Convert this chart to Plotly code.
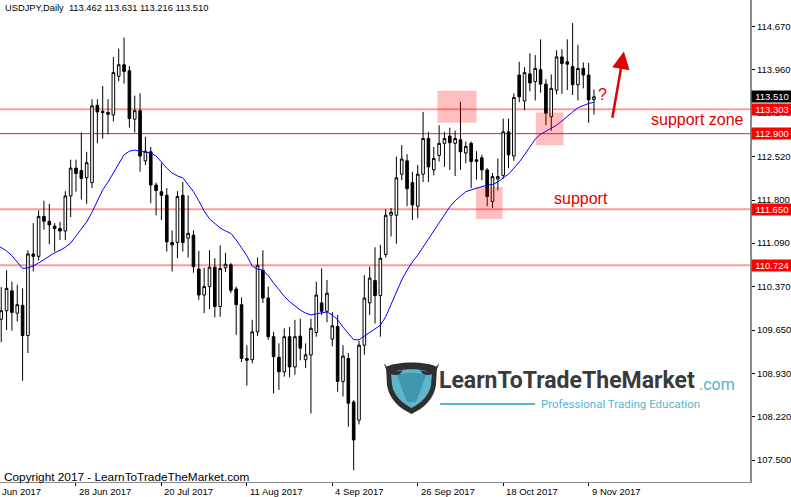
import numpy as np
import pandas as pd
import plotly.graph_objects as go

# ---------------- data ----------------
dates = [d.strftime("%Y-%m-%d") for d in pd.bdate_range("2017-06-07", "2017-11-10")]
base_date = "2017-06-05"

opens = [109.78, 109.83, 109.97, 110.30, 109.93, 110.06, 109.56, 110.91, 110.87, 111.53,
         111.45, 111.37, 111.33, 111.29, 111.87, 112.33, 112.29, 112.17, 112.09, 113.37,
         113.27, 113.25, 113.21, 113.85, 114.04, 113.94, 113.14, 113.28, 112.45, 112.60,
         112.05, 111.94, 111.88, 111.10, 111.10, 111.88, 111.17, 111.22, 110.66, 110.23,
         110.37, 110.69, 110.04, 110.68, 110.73, 110.33, 110.07, 109.18, 109.16, 109.62,
         110.64, 110.18, 109.54, 109.20, 108.96, 109.54, 109.04, 109.55, 109.16, 109.24,
         109.61, 110.10, 109.96, 109.50, 109.71, 108.80, 109.18, 108.46, 108.16, 109.40,
         110.10, 110.47, 110.22, 110.90, 111.55, 111.55, 112.23, 112.45, 112.09, 111.70,
         112.23, 112.82, 112.30, 112.54, 112.74, 112.86, 112.74, 112.80, 112.58, 112.74,
         112.44, 112.50, 112.30, 111.78, 112.15, 112.21, 112.93, 112.53, 113.87, 113.44,
         113.89, 113.76, 113.96, 113.72, 113.18, 113.62, 114.17, 114.09, 114.01, 113.71,
         113.98, 113.87, 113.462]
highs = [110.25, 110.36, 110.64, 110.45, 110.40, 110.34, 110.97, 111.42, 111.63, 111.79,
         111.74, 111.42, 111.44, 111.95, 112.47, 112.47, 112.92, 112.60, 113.47, 113.47,
         113.69, 113.47, 114.17, 114.31, 114.49, 114.02, 113.53, 113.57, 112.85, 112.68,
         112.09, 112.41, 112.00, 111.30, 111.95, 112.10, 111.88, 111.30, 110.96, 110.68,
         110.97, 110.84, 111.05, 110.93, 110.76, 110.37, 110.19, 109.40, 109.82, 110.85,
         110.97, 110.37, 109.62, 109.43, 109.68, 109.70, 109.82, 109.84, 109.43, 109.84,
         110.45, 110.67, 110.48, 109.95, 109.90, 109.40, 109.27, 108.49, 109.47, 110.56,
         110.70, 111.02, 111.06, 111.65, 111.67, 112.52, 112.71, 112.56, 112.27, 112.38,
         113.26, 112.93, 112.68, 113.04, 112.93, 113.00, 112.95, 113.43, 112.77, 112.77,
         112.61, 112.55, 112.33, 112.25, 112.49, 113.15, 113.15, 113.57, 114.09, 114.00,
         114.23, 114.20, 114.46, 113.80, 113.88, 114.28, 114.30, 114.46, 114.73, 114.37,
         114.08, 114.07, 113.631]
lows = [109.62, 109.45, 109.65, 109.64, 109.79, 108.81, 109.27, 110.62, 110.80, 111.31,
        111.07, 110.95, 111.14, 111.14, 111.52, 111.94, 111.81, 111.74, 112.00, 112.74,
        112.82, 112.89, 113.10, 113.77, 113.73, 113.00, 112.92, 112.27, 112.38, 111.75,
        111.55, 111.47, 110.95, 110.62, 110.84, 110.95, 110.85, 110.60, 110.15, 109.93,
        110.00, 109.86, 109.87, 110.61, 110.26, 109.57, 109.12, 108.73, 109.10, 109.55,
        110.10, 109.49, 108.60, 108.66, 108.88, 108.87, 108.91, 109.15, 109.02, 108.27,
        109.54, 109.90, 109.78, 109.38, 108.63, 108.55, 108.05, 107.33, 108.09, 109.24,
        109.90, 109.76, 109.54, 110.85, 111.20, 111.08, 112.13, 111.70, 111.47, 111.50,
        112.10, 112.10, 112.21, 112.44, 112.35, 112.30, 112.20, 112.30, 112.41, 112.00,
        112.14, 112.13, 111.70, 111.67, 111.96, 112.15, 112.33, 112.45, 113.42, 113.29,
        113.60, 113.45, 113.58, 113.04, 112.95, 113.55, 113.56, 113.62, 113.54, 113.45,
        113.65, 113.08, 113.216]
closes = [109.83, 109.97, 110.34, 109.94, 110.07, 109.56, 110.91, 110.87, 111.53, 111.45,
          111.39, 111.33, 111.29, 111.87, 112.33, 112.24, 112.16, 112.42, 113.36, 113.26,
          113.25, 113.22, 113.91, 114.04, 113.93, 113.15, 113.28, 112.53, 112.61, 112.05,
          111.96, 111.88, 111.11, 111.06, 111.86, 111.10, 111.25, 110.70, 110.23, 110.37,
          110.69, 110.04, 110.67, 110.74, 110.31, 110.07, 109.18, 109.15, 109.62, 110.72,
          110.18, 109.54, 109.21, 108.96, 109.54, 109.04, 109.54, 109.35, 109.24, 109.68,
          110.23, 109.96, 110.26, 109.72, 108.80, 109.22, 108.44, 107.83, 109.40, 110.18,
          110.51, 110.22, 110.84, 111.55, 111.60, 112.17, 112.48, 111.99, 111.72, 112.23,
          112.82, 112.35, 112.49, 112.74, 112.82, 112.75, 112.82, 112.60, 112.69, 112.44,
          112.47, 112.30, 111.86, 112.19, 112.19, 112.93, 112.55, 113.50, 113.51, 113.91,
          113.74, 113.98, 113.72, 113.24, 113.65, 114.17, 114.06, 114.05, 113.71, 113.98,
          113.87, 113.46, 113.510]
ma_line = [111.07, 111.02, 110.96, 110.88, 110.78, 110.67, 110.68, 110.71, 110.76, 110.82,
           110.88, 110.93, 110.97, 111.02, 111.09, 111.21, 111.31, 111.44, 111.60, 111.79,
           111.97, 112.10, 112.25, 112.40, 112.55, 112.61, 112.63, 112.61, 112.60, 112.58,
           112.53, 112.43, 112.33, 112.25, 112.20, 112.17, 112.05, 111.94, 111.79, 111.62,
           111.49, 111.41, 111.34, 111.29, 111.25, 111.14, 111.02, 110.88, 110.71, 110.66,
           110.64, 110.55, 110.43, 110.31, 110.21, 110.12, 110.05, 109.98, 109.93, 109.90,
           109.92, 109.94, 109.95, 109.90, 109.82, 109.70, 109.59, 109.49, 109.49, 109.55,
           109.62, 109.67, 109.73, 109.87, 110.08, 110.28, 110.48, 110.64, 110.78, 110.89,
           111.02, 111.16, 111.29, 111.42, 111.55, 111.69, 111.79, 111.87, 111.94, 111.97,
           112.00, 112.03, 112.05, 112.06, 112.10, 112.17, 112.23, 112.33, 112.43, 112.55,
           112.68, 112.81, 112.89, 112.94, 112.98, 113.04, 113.11, 113.19, 113.26, 113.33,
           113.37, 113.40, 113.42]

level_soft = [113.303, 111.650, 110.724]
level_hard = [112.900]
last_price = 113.510

tick_dates = ["2017-06-06", "2017-06-28", "2017-07-20", "2017-08-11", "2017-09-04",
              "2017-09-26", "2017-10-18", "2017-11-09"]
tick_texts = ["6 Jun 2017", "28 Jun 2017", "20 Jul 2017", "11 Aug 2017", "4 Sep 2017",
              "26 Sep 2017", "18 Oct 2017", "9 Nov 2017"]
price_ticks = [114.670, 113.960, 113.240, 112.520, 111.800, 111.090, 110.370,
               109.650, 108.930, 108.220, 107.500]

# zones (index range, price range)
zones = [
    (84.7, 92.0, 113.08, 113.61),
    (103.1, 108.3, 112.71, 113.25),
    (91.9, 96.9, 111.49, 112.02),
]

# ---------------- layout constants ----------------
W, H = 791, 497
ML, MR, MT, MB = 0, 41, 0, 15
PW, PH = W - ML - MR, H - MT - MB
XMIN, XMAX = 2.77, 143.22
YMIN, YMAX = 107.136, 115.112
FONT = "Liberation Sans"

xi = [int(np.busday_count(base_date, d)) for d in dates]
tick_x = [int(np.busday_count(base_date, d)) for d in tick_dates]


def px(x):
    return x / PW


def py(y):
    return 1 - y / PH


def xfrac(i):
    return (i - XMIN) / (XMAX - XMIN)


fig = go.Figure()

fig.add_trace(go.Candlestick(
    x=xi, open=opens, high=highs, low=lows, close=closes,
    increasing=dict(line=dict(color="black", width=1), fillcolor="white"),
    decreasing=dict(line=dict(color="black", width=1), fillcolor="black"),
    whiskerwidth=0, hoverinfo="skip", showlegend=False,
))
fig.add_trace(go.Scatter(
    x=xi, y=ma_line, mode="lines", line=dict(color="#0000FF", width=1),
    hoverinfo="skip", showlegend=False,
))

shapes = []
for lv in level_soft:
    shapes.append(dict(type="line", xref="paper", x0=0, x1=1, yref="y", y0=lv, y1=lv,
                       line=dict(color="#FF9A9A", width=2), layer="below"))
for lv in level_hard:
    shapes.append(dict(type="line", xref="paper", x0=0, x1=1, yref="y", y0=lv, y1=lv,
                       line=dict(color="#E02020", width=1), layer="below"))
for x0, x1, y0, y1 in zones:
    shapes.append(dict(type="rect", xref="x", yref="y", x0=x0, x1=x1, y0=y0, y1=y1,
                       fillcolor="rgba(255,0,0,0.25)", line=dict(width=0), layer="above"))


def ppath(cmds):
    out = []
    for c in cmds:
        op = c[0]
        nums = c[1:]
        parts = []
        for k in range(0, len(nums), 2):
            parts.append(f"{px(nums[k]):.5f},{py(nums[k + 1]):.5f}")
        out.append(op + " ".join(parts))
    return " ".join(out) + " Z"


shield_outer = [("M", 386, 367), ("C", 396, 361, 427, 361, 437, 367), ("L", 436, 385),
                ("C", 434, 399, 424, 408, 411.5, 414), ("C", 399, 408, 389, 399, 387, 385)]
shield_inner = [("M", 391, 373), ("C", 401, 368, 422, 368, 432, 373), ("L", 431, 385),
                ("C", 429, 396, 421, 403, 411.5, 408), ("C", 402, 403, 394, 396, 392, 385)]
head = [("M", 397, 375), ("C", 405, 372, 418, 372, 426, 375), ("L", 421, 389),
        ("L", 416, 402), ("L", 407, 402), ("L", 402, 389)]
horn_l = [("M", 384, 363), ("C", 389, 371, 396, 373, 403, 370), ("L", 400, 374),
          ("C", 392, 377, 386, 373, 384, 363)]
horn_r = [("M", 439, 363), ("C", 434, 371, 427, 373, 420, 370), ("L", 423, 374),
          ("C", 431, 377, 437, 373, 439, 363)]
for pth, col in [(shield_outer, "#2f2f2f"), (shield_inner, "#5fb6cb"), (head, "#3f98b0"),
                 (horn_l, "#2f2f2f"), (horn_r, "#2f2f2f")]:
    shapes.append(dict(type="path", xref="paper", yref="paper", path=ppath(pth),
                       fillcolor=col, line=dict(width=0), layer="above"))
shapes.append(dict(type="line", xref="paper", yref="paper", x0=px(440), x1=px(535),
                   y0=py(404), y1=py(404), line=dict(color="#5ab4d4", width=2)))

ann = []
# title
ann.append(dict(xref="paper", yref="paper", x=px(3), y=py(1), xanchor="left", yanchor="top",
                text="USDJPY,Daily  113.462 113.631 113.216 113.510", showarrow=False,
                font=dict(family=FONT, size=9.3, color="black")))
# copyright
ann.append(dict(xref="paper", yref="paper", x=px(2), y=py(468), xanchor="left", yanchor="top",
                text="Copyright 2017 - LearnToTradeTheMarket.com", showarrow=False,
                font=dict(family=FONT, size=11.8, color="black")))
# x date labels (left aligned at their tick)
for tx, tt in zip(tick_x, tick_texts):
    ann.append(dict(xref="paper", yref="paper", x=xfrac(tx) + 1 / PW, y=py(PH + 2),
                    xanchor="left", yanchor="top", text=tt, showarrow=False,
                    font=dict(family=FONT, size=9.5, color="black")))
# price boxes
for lv in level_soft + level_hard:
    ann.append(dict(xref="paper", yref="y", x=1 + 1 / PW, y=lv, xanchor="left", yanchor="middle",
                    text=f"{lv:.3f}", showarrow=False, bgcolor="#FF0000", width=40, height=11,
                    borderpad=0, align="center", font=dict(family=FONT, size=9.5, color="white")))
ann.append(dict(xref="paper", yref="y", x=1 + 1 / PW, y=last_price, xanchor="left", yanchor="middle",
                text=f"{last_price:.3f}", showarrow=False, bgcolor="#000000", width=40, height=11,
                borderpad=0, align="center", font=dict(family=FONT, size=9.5, color="white")))
# notes
ann.append(dict(xref="x", yref="y", x=133.3, y=113.14, text="support zone", showarrow=False,
                font=dict(family=FONT, size=16, color="#E00000")))
ann.append(dict(xref="x", yref="y", x=111.5, y=111.83, text="support", showarrow=False,
                font=dict(family=FONT, size=16, color="#E00000")))
ann.append(dict(xref="x", yref="y", x=115.6, y=113.55, text="?", showarrow=False,
                font=dict(family=FONT, size=16, color="#E00000")))
ann.append(dict(xref="x", yref="y", x=119.6, y=114.26, ax=117.4, ay=113.14, axref="x", ayref="y",
                text="", showarrow=True, arrowhead=2, arrowsize=1.4, arrowwidth=2.5,
                arrowcolor="#E00000", standoff=0))
# logo text
ann.append(dict(xref="paper", yref="paper", x=px(437), y=py(380), xanchor="left", yanchor="middle",
                text="<b>LearnToTradeTheMarket</b>", showarrow=False,
                font=dict(family="Roboto", size=23, color="#3a3a3a")))
ann.append(dict(xref="paper", yref="paper", x=px(697), y=py(384), xanchor="left", yanchor="middle",
                text=".com", showarrow=False, font=dict(family="Roboto", size=16, color="#4fb3d1")))
ann.append(dict(xref="paper", yref="paper", x=px(539), y=py(404), xanchor="left", yanchor="middle",
                text="Professional Trading Education", showarrow=False,
                font=dict(family="Roboto", size=11.5, color="#5ab4d4")))

fig.update_layout(
    template="none",
    width=W, height=H, margin=dict(l=ML, r=MR, t=MT, b=MB, autoexpand=False),
    paper_bgcolor="white", plot_bgcolor="white", showlegend=False,
    shapes=shapes, annotations=ann,
    xaxis=dict(range=[XMIN, XMAX], showgrid=False, zeroline=False, showline=True,
               linecolor="#8c8c8c", linewidth=1, ticks="outside", ticklen=3, tickcolor="black",
               tickvals=tick_x, showticklabels=False, rangeslider=dict(visible=False),
               fixedrange=True, automargin=False),
    yaxis=dict(range=[YMIN, YMAX], side="right", showgrid=False, zeroline=False, showline=True,
               linecolor="#8c8c8c", linewidth=2, ticks="outside", ticklen=3, tickcolor="black",
               tickvals=price_ticks, ticktext=[f"{v:.3f}" for v in price_ticks],
               tickfont=dict(family=FONT, size=9.5, color="black"), fixedrange=True,
               automargin=False),
)

fig.write_html("out.html", config={"displayModeBar": False},
               post_script="document.body.style.margin='0';document.body.style.overflow='hidden';")
